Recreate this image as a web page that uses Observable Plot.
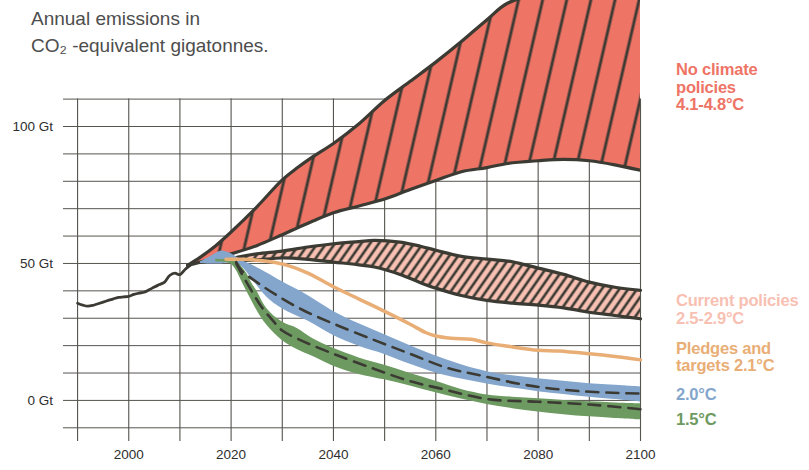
<!DOCTYPE html>
<html><head><meta charset="utf-8">
<script src="https://cdn.jsdelivr.net/npm/d3@7"></script>
<script src="https://cdn.jsdelivr.net/npm/@observablehq/plot@0.6"></script>
<style>
body{margin:0;background:#fff;}
#wrap{position:relative;width:809px;height:470px;font-family:"Liberation Sans",Arial,Helvetica,sans-serif;overflow:hidden;}
#wrap svg{position:absolute;left:0;top:0;}
.title{position:absolute;left:31px;font-size:19px;line-height:27px;color:#4d4d4d;white-space:nowrap;}
.lab{position:absolute;left:676px;font-size:16.5px;font-weight:bold;line-height:17.5px;white-space:nowrap;letter-spacing:-0.2px;}
</style></head><body><div id="wrap"></div>
<script>
// ---------- data ----------
const histYears = [1990,1991,1992,1993,1994,1995,1996,1997,1998,1999,2000,2001,2002,2003,2004,2005,2006,2007,2008,2009,2010,2011,2012];
const histGt    = [35.5,34.8,34.4,34.7,35.3,35.9,36.5,37.1,37.6,37.8,38.0,38.7,39.2,39.5,40.4,41.4,42.3,43.2,45.6,46.5,45.9,47.8,49.3];

const noPolicyYears = [2011.5,2014,2017,2020,2025,2030,2033,2036,2040,2045,2050,2055,2060,2065,2070,2074,2080,2085,2090,2095,2100];
const noPolicyLow   = [49.3,50.5,52.0,53.5,56.5,60.5,63.0,65.5,68.5,71.0,73.5,77.0,80.3,83.5,85.0,86.5,87.5,88.0,87.5,86.0,84.0];
const noPolicyHigh  = [49.3,52.3,56.5,61.5,70.6,80.5,85.0,89.0,93.8,101.0,109.5,116.5,123.5,131.0,139.0,145.0,148,148,148,148,148];

const currentYears = [2020,2025,2030,2035,2040,2045,2048,2053,2057,2060,2065,2070,2075,2080,2085,2090,2095,2100];
const currentLow   = [50.8,51.3,52.0,51.5,50.5,49.5,48.7,46.0,43.0,41.0,38.3,36.5,35.5,34.8,33.8,32.2,31.0,29.8];
const currentHigh  = [51.8,53.5,54.5,56.0,57.2,58.0,58.4,57.8,56.3,54.8,52.6,51.6,50.6,48.3,46.0,43.2,41.3,40.2];

const pledgeYears = [2019,2022,2025,2028,2031,2035,2040,2045,2050,2055,2058,2060,2063,2067,2070,2075,2080,2084,2090,2095,2100];
const pledgeGt    = [51.5,51.5,51.2,50.5,49.3,46.5,41.5,37.0,32.5,27.8,24.8,23.5,22.7,22.3,21.0,19.5,18.3,18.0,17.0,16.0,14.8];

const twoYears = [2014,2016,2018,2020,2022,2024,2027,2030,2035,2040,2045,2050,2055,2060,2065,2070,2075,2080,2085,2090,2095,2100];
const twoLow   = [50.0,49.8,49.8,50.2,49.0,44.5,37.7,33.5,29.0,23.7,19.8,16.8,13.2,10.0,7.8,6.0,4.5,3.2,2.2,1.2,0.3,-0.6];
const twoHigh  = [50.5,52.5,54.5,53.5,51.2,49.5,46.5,43.3,38.3,32.5,28.0,24.0,20.0,16.2,13.0,10.5,9.0,7.9,7.0,6.1,5.5,4.9];
const twoMidYears = [2021,2022,2025,2029,2034,2040,2048,2055,2062,2069,2078,2088,2100];
const twoMid      = [50.5,47.5,43.2,38.3,33.0,28.0,22.0,17.0,12.0,9.0,5.5,3.4,2.5];

const oneFiveYears = [2017,2019,2020,2021,2022,2023,2024,2025,2027,2030,2033,2036,2040,2045,2050,2055,2060,2065,2070,2075,2080,2085,2090,2095,2100];
const oneFiveLow   = [50.5,50.3,49.8,47.5,43.8,40.0,36.5,33.0,27.4,21.9,18.5,16.0,12.5,9.5,7.5,5.3,2.8,0.5,-1.5,-3.0,-4.2,-5.2,-6.0,-6.6,-7.1];
const oneFiveHigh  = [51.5,51.3,51.0,50.7,49.0,46.5,43.0,40.0,33.5,28.6,26.2,22.5,19.0,15.5,12.8,9.8,7.0,4.0,2.0,1.2,0.6,0.0,-0.5,-0.9,-1.2];
const oneFiveMidYears = [2021,2022,2024,2026,2028,2030,2033,2040,2048,2055,2061,2070,2080,2090,2100];
const oneFiveMid      = [50.0,46.5,40.0,34.0,29.5,25.5,22.5,17.0,11.5,7.0,4.3,0.5,-0.5,-1.5,-3.2];

const xTickYears = [2000,2020,2040,2060,2080,2100];
const yTickValues = [0,50,100];
const yTickLabels = ["0 Gt","50 Gt","100 Gt"];
const xGridYears = [1990,2000,2010,2020,2030,2040,2050,2060,2070,2080,2090,2100];
const yGridValues = [-10,0,10,20,30,40,50,60,70,80,90,100,110];

// ---------- styles ----------
const dark = "#3b3a33";
const gridColor = "#55544f";
const cRed = "#ee7466", cPink = "#f8c0b2", cOrange = "#e9ae76", cBlue = "#84a6cd", cGreen = "#6d9a60";
const xDomain = [1987.25, 2100];
const yDomain = [-15, 146];

const band = (ys, lo, hi) => ys.map((year, i) => ({year, lo: lo[i], hi: hi[i]}));
const series = (ys, v) => ys.map((year, i) => ({year, v: v[i]}));

const hist = series(histYears, histGt);
const noPolicy = band(noPolicyYears, noPolicyLow, noPolicyHigh);
const current = band(currentYears, currentLow, currentHigh);
const pledge = series(pledgeYears, pledgeGt);
const two = band(twoYears, twoLow, twoHigh);
const twoM = series(twoMidYears, twoMid);
const oneFive = band(oneFiveYears, oneFiveLow, oneFiveHigh);
const oneFiveM = series(oneFiveMidYears, oneFiveMid);

const curve = "catmull-rom";

const svg = Plot.plot({
  width: 809, height: 470,
  marginLeft: 63, marginRight: 169, marginTop: 0, marginBottom: 29,
  style: {fontFamily: '"Liberation Sans", Arial, Helvetica, sans-serif', background: "transparent"},
  x: {domain: xDomain, axis: null},
  y: {domain: yDomain, axis: null},
  marks: [
    Plot.ruleY(yGridValues, {stroke: gridColor, strokeWidth: 1}),
    Plot.ruleX(xGridYears, {y1: d3.max(yGridValues), y2: yDomain[0], stroke: gridColor, strokeWidth: 1.1}),
    Plot.line(hist, {x: "year", y: "v", stroke: dark, strokeWidth: 2.8, curve}),
    Plot.areaY(noPolicy, {x: "year", y1: "lo", y2: "hi", fill: "url(#hatch-red)", curve, clip: true}),
    Plot.line(noPolicy, {x: "year", y: "hi", stroke: dark, strokeWidth: 3.2, curve, clip: true}),
    Plot.line(noPolicy, {x: "year", y: "lo", stroke: dark, strokeWidth: 3.2, curve, clip: true}),
    Plot.areaY(current, {x: "year", y1: "lo", y2: "hi", fill: "url(#hatch-pink)", curve}),
    Plot.line(current, {x: "year", y: "hi", stroke: dark, strokeWidth: 3.2, curve}),
    Plot.line(current, {x: "year", y: "lo", stroke: dark, strokeWidth: 3.2, curve}),
    Plot.areaY(two, {x: "year", y1: "lo", y2: "hi", fill: cBlue, curve}),
    Plot.areaY(oneFive, {x: "year", y1: "lo", y2: "hi", fill: cGreen, curve}),
    Plot.line(pledge, {x: "year", y: "v", stroke: cOrange, strokeWidth: 3.5, curve}),
    Plot.line(twoM, {x: "year", y: "v", stroke: dark, strokeWidth: 2.6, strokeDasharray: "12,8", curve}),
    Plot.line(oneFiveM, {x: "year", y: "v", stroke: dark, strokeWidth: 2.6, strokeDasharray: "12,8", curve}),
    Plot.text(xTickYears, {x: d => d, frameAnchor: "bottom", dy: 17, text: d => String(d), fontSize: 13.5, fill: "#2e2e2e"}),
    Plot.text(yTickValues, {y: d => d, frameAnchor: "left", textAnchor: "end", dx: -10.5, text: (d, i) => yTickLabels[i], fontSize: 13.5, fill: "#2e2e2e"})
  ]
});

// hatch patterns
const defs = d3.select(svg).insert("defs", ":first-child");
function hatch(id, bg, spacing, angle, sw) {
  const p = defs.append("pattern").attr("id", id).attr("patternUnits", "userSpaceOnUse")
    .attr("width", spacing).attr("height", spacing).attr("patternTransform", `rotate(${angle})`);
  p.append("rect").attr("width", spacing).attr("height", spacing).attr("fill", bg);
  p.append("line").attr("x1", spacing / 2).attr("x2", spacing / 2).attr("y1", -1).attr("y2", spacing + 1)
    .attr("stroke", dark).attr("stroke-width", sw);
}
hatch("hatch-red", cRed, 23.5, 13, 2.9);
hatch("hatch-pink", cPink, 7.2, 35, 2.6);

const wrap = document.getElementById("wrap");
wrap.appendChild(svg);

const addDiv = (cls, html, top, color) => {
  const d = document.createElement("div");
  d.className = cls; d.innerHTML = html; d.style.top = top + "px";
  if (color) d.style.color = color;
  wrap.appendChild(d);
};
addDiv("title", "Annual emissions in<br>CO₂ -equivalent gigatonnes.", 4.9);
addDiv("lab", "No climate<br>policies<br>4.1-4.8°C", 61.2, cRed);
addDiv("lab", "Current policies<br>2.5-2.9°C", 292.2, cPink);
addDiv("lab", "Pledges and<br>targets 2.1°C", 339.5, cOrange);
addDiv("lab", "2.0°C", 386.2, cBlue);
addDiv("lab", "1.5°C", 411.2, cGreen);
</script>
</body></html>
